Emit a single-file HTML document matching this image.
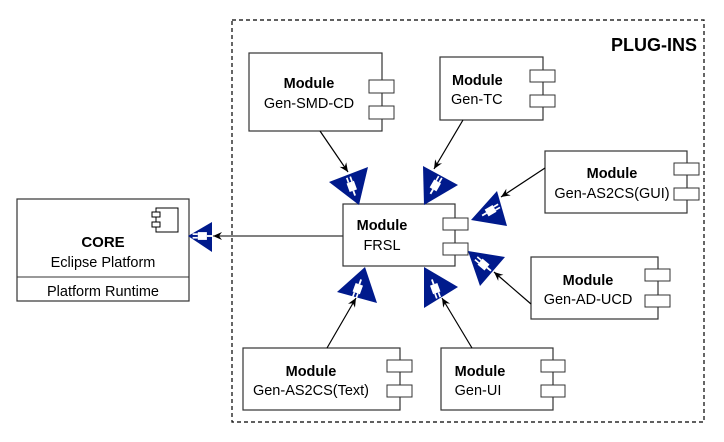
<!DOCTYPE html>
<html><head><meta charset="utf-8"><style>
html,body{margin:0;padding:0;background:#fff;}
svg{display:block;font-family:"Liberation Sans",Arial,sans-serif;}
</style></head><body>
<svg width="724" height="442" viewBox="0 0 724 442" xmlns="http://www.w3.org/2000/svg">
<defs>
<marker id="ah" markerWidth="10" markerHeight="10" refX="9" refY="5" orient="auto" markerUnits="userSpaceOnUse">
<path d="M0,1 L9,5 L0,9 L3,5 Z" fill="#000"/>
</marker>
<g id="plug"><g transform="scale(1.3)"><rect x="-3" y="-4" width="6" height="7" fill="#fff"/><rect x="-2" y="-8" width="1.3" height="4" fill="#fff"/><rect x="0.8" y="-8" width="1.3" height="4" fill="#fff"/><rect x="-0.7" y="3" width="1.4" height="4" fill="#fff"/></g></g>
</defs>
<rect x="232" y="20" width="472" height="402" fill="none" stroke="#000" stroke-dasharray="4,3" stroke-width="1.2"/>
<text x="697" y="51" text-anchor="end" font-size="18" font-weight="bold">PLUG-INS</text>

<!-- CORE -->
<rect x="17" y="199" width="172" height="102" fill="#fff" stroke="#333" stroke-width="1.2"/>
<line x1="17" y1="277" x2="189" y2="277" stroke="#333"/>
<rect x="156" y="208" width="22" height="24" fill="#fff" stroke="#000"/>
<rect x="152" y="212" width="8" height="5" fill="#fff" stroke="#000"/>
<rect x="152" y="222" width="8" height="5" fill="#fff" stroke="#000"/>
<text x="103" y="247" text-anchor="middle" font-size="15" font-weight="bold">CORE</text>
<text x="103" y="267" text-anchor="middle" font-size="14.5">Eclipse Platform</text>
<text x="103" y="296" text-anchor="middle" font-size="14.5">Platform Runtime</text>
<polygon points="188,236 212,222 212,252" fill="#001a8c"/>
<g transform="translate(203,236) rotate(-90)"><use href="#plug"/></g>
<line x1="343" y1="236" x2="213" y2="236" stroke="#000" marker-end="url(#ah)"/>

<g font-size="14.5">
<!-- FRSL -->
<rect x="343" y="204" width="112" height="62" fill="#fff" stroke="#333" stroke-width="1.2"/>
<rect x="443" y="218" width="25" height="12" fill="#fff" stroke="#333"/>
<rect x="443" y="243" width="25" height="12" fill="#fff" stroke="#333"/>
<text x="382" y="230" text-anchor="middle" font-weight="bold">Module</text>
<text x="382" y="250" text-anchor="middle">FRSL</text>

<rect x="249" y="53" width="133" height="78" fill="#fff" stroke="#333" stroke-width="1.2"/>
<rect x="369" y="80" width="25" height="13" fill="#fff" stroke="#333"/><rect x="369" y="106" width="25" height="13" fill="#fff" stroke="#333"/>
<text x="309" y="88" text-anchor="middle" font-weight="bold">Module</text><text x="309" y="108" text-anchor="middle">Gen-SMD-CD</text>

<rect x="440" y="57" width="103" height="63" fill="#fff" stroke="#333" stroke-width="1.2"/>
<rect x="530" y="70" width="25" height="12" fill="#fff" stroke="#333"/><rect x="530" y="95" width="25" height="12" fill="#fff" stroke="#333"/>
<text x="452" y="85" font-weight="bold">Module</text><text x="451" y="104">Gen-TC</text>

<rect x="545" y="151" width="142" height="62" fill="#fff" stroke="#333" stroke-width="1.2"/>
<rect x="674" y="163" width="25" height="12" fill="#fff" stroke="#333"/><rect x="674" y="188" width="25" height="12" fill="#fff" stroke="#333"/>
<text x="612" y="178" text-anchor="middle" font-weight="bold">Module</text><text x="612" y="198" text-anchor="middle">Gen-AS2CS(GUI)</text>

<rect x="531" y="257" width="127" height="62" fill="#fff" stroke="#333" stroke-width="1.2"/>
<rect x="645" y="269" width="25" height="12" fill="#fff" stroke="#333"/><rect x="645" y="295" width="25" height="12" fill="#fff" stroke="#333"/>
<text x="588" y="285" text-anchor="middle" font-weight="bold">Module</text><text x="588" y="304" text-anchor="middle">Gen-AD-UCD</text>

<rect x="243" y="348" width="157" height="62" fill="#fff" stroke="#333" stroke-width="1.2"/>
<rect x="387" y="360" width="25" height="12" fill="#fff" stroke="#333"/><rect x="387" y="385" width="25" height="12" fill="#fff" stroke="#333"/>
<text x="311" y="376" text-anchor="middle" font-weight="bold">Module</text><text x="311" y="395" text-anchor="middle">Gen-AS2CS(Text)</text>

<rect x="441" y="348" width="112" height="62" fill="#fff" stroke="#333" stroke-width="1.2"/>
<rect x="541" y="360" width="24" height="12" fill="#fff" stroke="#333"/><rect x="541" y="385" width="24" height="12" fill="#fff" stroke="#333"/>
<text x="480" y="376" text-anchor="middle" font-weight="bold">Module</text><text x="478" y="395" text-anchor="middle">Gen-UI</text>
</g>

<!-- triangles -->
<g fill="#001a8c">
<polygon points="329,182 368,167 359,205"/>
<polygon points="423,166 458,185 424,205"/>
<polygon points="497,191 507,226 471,220"/>
<polygon points="468,251 505,257 480,286"/>
<polygon points="365,267 377,303 337,292"/>
<polygon points="424,267 458,287 424,308"/>
</g>
<g transform="translate(352,187) rotate(-20)"><use href="#plug"/></g>
<g transform="translate(435,186) rotate(30)"><use href="#plug"/></g>
<g transform="translate(490,211) rotate(60)"><use href="#plug"/></g>
<g transform="translate(484,265) rotate(-50)"><use href="#plug"/></g>
<g transform="translate(358,288) rotate(200)"><use href="#plug"/></g>
<g transform="translate(435,288) rotate(160)"><use href="#plug"/></g>

<!-- arrows -->
<g stroke="#000" stroke-width="1.2" marker-end="url(#ah)">
<line x1="320" y1="131" x2="348" y2="172"/>
<line x1="463" y1="120" x2="434" y2="169"/>
<line x1="545" y1="168" x2="501" y2="197"/>
<line x1="531" y1="304" x2="494" y2="272"/>
<line x1="327" y1="348" x2="356" y2="298"/>
<line x1="472" y1="348" x2="442" y2="298"/>
</g>
</svg>
</body></html>
